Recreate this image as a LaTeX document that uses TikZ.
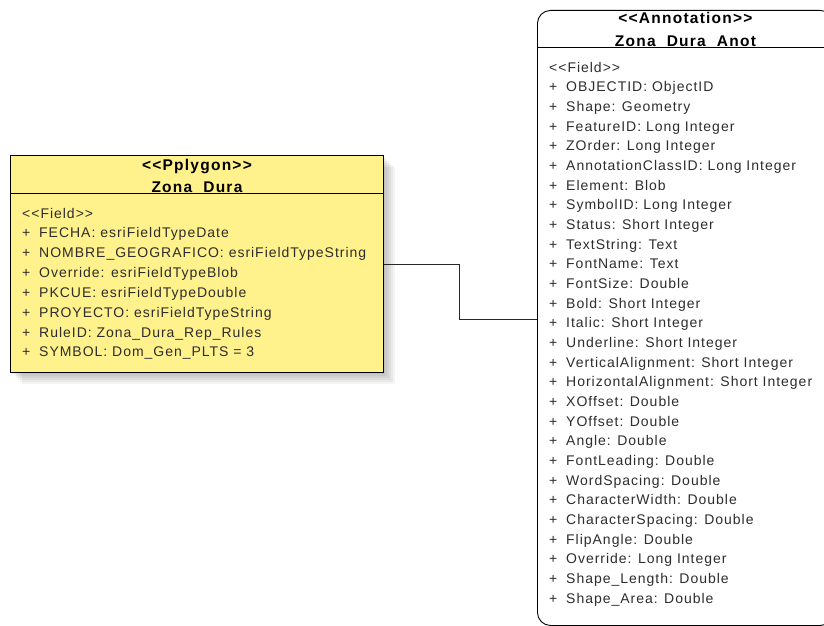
\documentclass[tikz,border=0pt]{standalone}
\usepackage{fontspec}
\setmainfont{Liberation Sans}
\newfontfamily\umlfont{Liberation Sans}[LetterSpace=7]
\newfontfamily\umlhead{Liberation Sans}[LetterSpace=8]
\usetikzlibrary{calc}
\definecolor{polyYellow}{RGB}{255,241,140}
\definecolor{fieldGray}{RGB}{45,45,45}
\newcommand{\fld}[1]{\makebox[17pt][l]{+}#1}

\begin{document}
\begin{tikzpicture}[x=1pt,y=-1pt,
  classbox/.style={draw=black,line width=0.9pt,inner sep=0pt,anchor=north west},
  classtitle/.style={font=\umlhead\fontsize{15.5}{17}\selectfont\bfseries,inner sep=0pt,anchor=base},
  fieldtxt/.style={font=\umlfont\fontsize{14}{16}\selectfont,text=fieldGray,inner sep=0pt,anchor=base west},
  conn/.style={draw=black!85,line width=0.8pt}]
\useasboundingbox (0,0) rectangle (824,626);
\fill[white] (0,0) rectangle (824,626);

% shadow of the polygon class
\foreach \s in {2,4,...,12}
  \fill[black,opacity=0.045] (10+\s,155+\s) rectangle (383+\s,372+\s);

% Zona_Dura
\node[classbox,fill=polyYellow,minimum width=373pt,minimum height=217pt] (zona) at (10,155) {};
\draw[line width=0.9pt] ($(zona.north west)+(0,38.5)$) coordinate (zsep) -- (zsep -| zona.east);
\node[classtitle] (zst) at ($(zona.north)+(0,15.5)$) {<<Pplygon>>};
\node[classtitle] (zsn) at ($(zona.north)+(0,37.5)$) {Zona\_Dura};
\node[fieldtxt] (zf0) at (22,218) {<<Field>>};
\foreach \txt [count=\i] in {FECHA: esriFieldTypeDate,NOMBRE\_GEOGRAFICO: esriFieldTypeString,
  Override: esriFieldTypeBlob,PKCUE: esriFieldTypeDouble,PROYECTO: esriFieldTypeString,
  RuleID: Zona\_Dura\_Rep\_Rules,SYMBOL: Dom\_Gen\_PLTS = 3}
  \node[fieldtxt] (zf\i) at (22,218+\i*19.85) {\fld{\txt}};

% Zona_Dura_Anot
\begin{scope}
\clip (0,0) rectangle (824,626);
\node[classbox,fill=white,rounded corners=13pt,minimum width=296pt,minimum height=615pt] (anot) at (537,10) {};
\end{scope}
\draw[line width=0.9pt] ($(anot.north west)+(0,37.5)$) coordinate (asep) -- ($(asep)+(290,0)$);
\node[classtitle] (ast) at ($(anot.north)+(0,14)$) {<<Annotation>>};
\node[classtitle] (asn) at ($(anot.north)+(0,36.5)$) {Zona\_Dura\_Anot};
\node[fieldtxt] (af0) at (549,72) {<<Field>>};
\foreach \txt [count=\i] in {OBJECTID: ObjectID,Shape: Geometry,FeatureID: Long Integer,
  ZOrder: Long Integer,AnnotationClassID: Long Integer,Element: Blob,SymbolID: Long Integer,
  Status: Short Integer,TextString: Text,FontName: Text,FontSize: Double,Bold: Short Integer,
  Italic: Short Integer,Underline: Short Integer,VerticalAlignment: Short Integer,
  HorizontalAlignment: Short Integer,XOffset: Double,YOffset: Double,Angle: Double,
  FontLeading: Double,WordSpacing: Double,CharacterWidth: Double,CharacterSpacing: Double,
  FlipAngle: Double,Override: Long Integer,Shape\_Length: Double,Shape\_Area: Double}
  \node[fieldtxt] (af\i) at (549,72+\i*19.67) {\fld{\txt}};

% link
\coordinate (bend) at (459,0);
\coordinate (alink) at ($(anot.north west)+(0,309)$);
\draw[conn] (zona.east) -- (zona.east -| bend) |- (alink);
\end{tikzpicture}
\end{document}
